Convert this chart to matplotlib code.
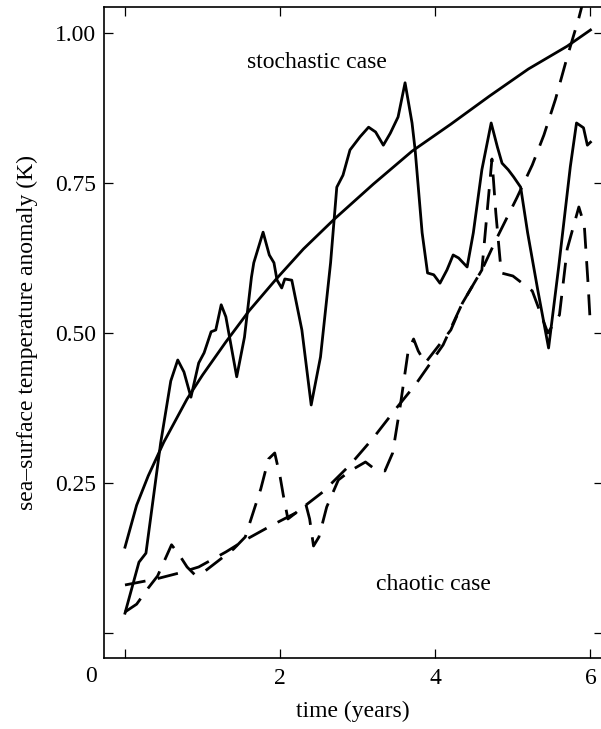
import matplotlib
matplotlib.use("Agg")
import matplotlib.pyplot as plt

# %% data
# smooth solid curve (stochastic mean)
smooth_x = [0, 0.15, 0.3, 0.5, 0.8, 1.0, 1.3, 1.6, 1.95, 2.3, 2.7, 3.2, 3.7, 4.2, 4.7, 5.2, 5.7, 6.0]
smooth_y = [0.143, 0.213, 0.262, 0.318, 0.39, 0.43, 0.485, 0.537, 0.59, 0.64, 0.69, 0.748, 0.803,
            0.848, 0.895, 0.94, 0.978, 1.005]

# jagged solid curve (stochastic case)
stoch_x = [0, 0.18, 0.27, 0.46, 0.59, 0.68, 0.76, 0.85, 0.95, 1.02, 1.11, 1.17, 1.24, 1.30, 1.44,
           1.54, 1.63, 1.66, 1.78, 1.86, 1.92, 1.96, 2.02, 2.06, 2.15, 2.28, 2.40, 2.52, 2.65, 2.73,
           2.81, 2.90, 3.03, 3.14, 3.23, 3.33, 3.42, 3.52, 3.61, 3.70, 3.74, 3.83, 3.90, 3.98, 4.06,
           4.15, 4.23, 4.30, 4.41, 4.49, 4.60, 4.72, 4.80, 4.86, 4.94, 5.01, 5.10, 5.19, 5.32, 5.46,
           5.59, 5.74, 5.82, 5.91, 5.96, 6.0]
stoch_y = [0.033, 0.118, 0.133, 0.317, 0.42, 0.455, 0.435, 0.393, 0.45, 0.467, 0.502, 0.505, 0.547,
           0.527, 0.427, 0.493, 0.593, 0.617, 0.668, 0.63, 0.617, 0.588, 0.575, 0.59, 0.588, 0.505,
           0.38, 0.46, 0.617, 0.743, 0.763, 0.805, 0.827, 0.843, 0.835, 0.813, 0.833, 0.86, 0.917,
           0.85, 0.805, 0.667, 0.60, 0.597, 0.583, 0.605, 0.63, 0.625, 0.61, 0.667, 0.772, 0.85,
           0.81, 0.783, 0.772, 0.76, 0.743, 0.667, 0.572, 0.475, 0.61, 0.777, 0.85, 0.842, 0.813,
           0.818]

# smooth dashed curve (chaotic mean)
cmean_x = [0, 0.4, 0.7, 0.95, 1.3, 1.55, 1.9, 2.2, 2.55, 2.9, 3.2, 3.5, 3.75, 4.1, 4.35, 4.6, 4.8,
           5.05, 5.25, 5.4, 5.55, 5.7, 5.85, 5.92]
cmean_y = [0.08, 0.09, 0.1, 0.11, 0.135, 0.155, 0.18, 0.2, 0.235, 0.28, 0.325, 0.375, 0.415, 0.48,
           0.55, 0.605, 0.66, 0.725, 0.78, 0.83, 0.89, 0.96, 1.025, 1.06]

# jagged dashed curve (chaotic case)
chaos_x = [0, 0.15, 0.3, 0.42, 0.6, 0.7, 0.8, 0.9, 1.0, 1.2, 1.4, 1.55, 1.65, 1.75, 1.85, 1.93, 2.0,
           2.04, 2.1, 2.2, 2.33, 2.38, 2.43, 2.5, 2.6, 2.75, 2.9, 3.1, 3.2, 3.35, 3.45, 3.55, 3.65,
           3.72, 3.78, 3.87, 4.05, 4.2, 4.35, 4.6, 4.73, 4.78, 4.85, 5.0, 5.1, 5.25, 5.45, 5.6, 5.7,
           5.85, 5.92, 5.97, 6.0]
chaos_y = [0.035, 0.048, 0.075, 0.095, 0.147, 0.13, 0.11, 0.097, 0.1, 0.12, 0.14, 0.16, 0.2, 0.24,
           0.29, 0.3, 0.26, 0.23, 0.19, 0.2, 0.215, 0.19, 0.145, 0.16, 0.21, 0.255, 0.27, 0.285,
           0.275, 0.27, 0.3, 0.38, 0.47, 0.49, 0.47, 0.45, 0.48, 0.505, 0.55, 0.605, 0.79, 0.7, 0.6,
           0.595, 0.585, 0.57, 0.5, 0.53, 0.64, 0.71, 0.68, 0.58, 0.51]

xticks = [0, 2, 4, 6]
xtick_labels = ["", "2", "4", "6"]
yticks = [0, 0.25, 0.5, 0.75, 1.0]
ytick_labels = ["", "0.25", "0.50", "0.75", "1.00"]

# %% plot
plt.rcParams["font.family"] = ["Liberation Serif", "DejaVu Serif"]
plt.rcParams["font.size"] = 17

fig = plt.figure(figsize=(6.01, 7.29), dpi=100)
ax = fig.add_axes([0.173, 0.0974, 0.8295, 0.893])

ax.plot(smooth_x, smooth_y, color="black", lw=2.0)
ax.plot(stoch_x, stoch_y, color="black", lw=2.0)
ax.plot(cmean_x, cmean_y, color="black", lw=2.0, linestyle=(0, (7.5, 4.5)))
ax.plot(chaos_x, chaos_y, color="black", lw=2.0, linestyle=(0, (7.5, 4.5)))

ax.set_xlim(-0.271, 6.155)
ax.set_ylim(-0.0417, 1.0433)

ax.set_xticks(xticks)
ax.set_xticklabels(xtick_labels)
ax.set_yticks(yticks)
ax.set_yticklabels(ytick_labels)
ax.tick_params(direction="in", length=6.5, width=0.9, top=True, right=True, pad=7)
ax.tick_params(axis="y", pad=6)

for side in ["left", "bottom", "top"]:
    ax.spines[side].set_linewidth(1.2)
# right frame edge falls just off the picture
ax.spines["right"].set_visible(False)

ax.set_xlabel("time (years)", labelpad=9)
ax.set_ylabel("sea–surface temperature anomaly (K)", labelpad=12)

ax.text(2.48, 0.95, "stochastic case", ha="center", va="center")
ax.text(3.98, 0.08, "chaotic case", ha="center", va="center")
ax.text(-0.44, -0.072, "0", ha="center", va="center", clip_on=False)

fig.savefig("out.png", dpi=100)
